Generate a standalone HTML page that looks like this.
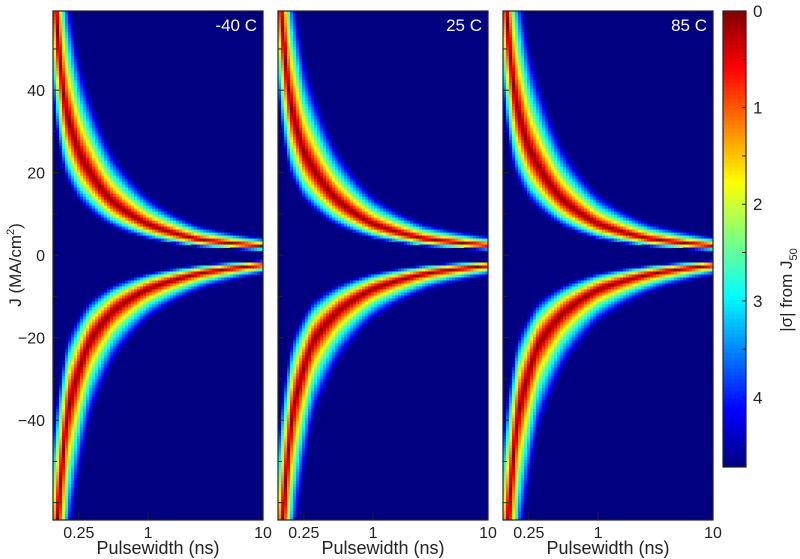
<!DOCTYPE html>
<html><head><meta charset="utf-8"><style>
body{margin:0;background:#fff;}
svg{display:block;font-family:"Liberation Sans",Arial,sans-serif;}
</style></head><body>
<svg id="chart" width="800" height="559" viewBox="0 0 800 559" xmlns="http://www.w3.org/2000/svg">
<g id="cells"></g>
<g id="axes"></g>
<text transform="translate(21,265) rotate(-90)" text-anchor="middle" font-size="17" fill="#222">J (MA/cm<tspan font-size="11" dy="-7">2</tspan><tspan dy="7">)</tspan></text>
<text transform="translate(792,290) rotate(-90)" text-anchor="middle" font-size="17" fill="#222">|σ| from J<tspan font-size="11" dy="5">50</tspan></text>
</svg>
<script>
// ---- data ----
const panelTitles = ["-40 C", "25 C", "85 C"];
const xTickValues = [0.25, 1, 10];
const xTickLabels = ["0.25", "1", "10"];
const yTickValues = [40, 20, 0, -20, -40];
const yTickLabels = ["40", "20", "0", "\u221220", "\u221240"];
const cbTickValues = [0, 1, 2, 3, 4];
const cbTickLabels = ["0", "1", "2", "3", "4"];
// J50 curves (pulsewidth ns -> |J| MA/cm2), per panel
const posPulse1 = [0.15, 0.165, 0.19, 0.25, 0.47, 1, 2.8, 10];
const posJ1     = [70, 52, 36, 25, 13.5, 7.5, 3.8, 2.2];
const negPulse1 = [0.15, 0.17, 0.2, 0.31, 0.5, 1, 3, 10];
const negJ1     = [80, 58, 38, 21, 13.5, 8.2, 4.3, 2.4];
const posPulse2 = [0.15, 0.165, 0.19, 0.25, 0.47, 1, 2.8, 10];
const posJ2     = [70, 53, 37, 25, 13.8, 7.6, 4, 2.4];
const negPulse2 = [0.15, 0.17, 0.2, 0.3, 0.5, 1, 3, 10];
const negJ2     = [80, 58, 38, 21, 13.5, 8.2, 4.4, 2.6];
const posPulse3 = [0.15, 0.165, 0.19, 0.25, 0.47, 1, 2.8, 10];
const posJ3     = [72, 54, 38, 26, 14, 7.6, 4, 2.3];
const negPulse3 = [0.15, 0.17, 0.2, 0.3, 0.5, 1, 3, 10];
const negJ3     = [82, 60, 39, 22, 14, 8.4, 4.5, 2.5];
const logWidth = [0.14, 0.14, 0.145]; // sigma width in ln(J)

// ---- layout ----
const NS = "http://www.w3.org/2000/svg";
const panelX = [53, 278, 503], PW = 210, PT = 11, PB = 520;
const tMin = 0.149, tMax = 10, jMax = 59.2, jMin = -64.2;
const cbX = 723, cbW = 23, cbTop = 11, cbBot = 467, vMax = 4.72;
function xs(px, t){ return px + (Math.log10(t)-Math.log10(tMin))/(Math.log10(tMax)-Math.log10(tMin))*PW; }
function ys(j){ return PT + (jMax-j)/(jMax-jMin)*(PB-PT); }
function cbY(v){ return cbTop + v/vMax*(cbBot-cbTop); }
function cl(x){return Math.max(0,Math.min(1,x));}
function jet(v){ const f = 1 - Math.min(v,vMax)/vMax;
  const r=cl(1.5-Math.abs(4*f-3)), g=cl(1.5-Math.abs(4*f-2)), b=cl(1.5-Math.abs(4*f-1));
  return "rgb("+Math.round(r*255)+","+Math.round(g*255)+","+Math.round(b*255)+")"; }
function interp(ts, js, t){
  const lt=Math.log(t);
  if (t<=ts[0]) return js[0];
  for(let i=1;i<ts.length;i++){ if(t<=ts[i]){ const a=Math.log(ts[i-1]),b=Math.log(ts[i]);
    const u=(lt-a)/(b-a); return Math.exp(Math.log(js[i-1])*(1-u)+Math.log(js[i])*u);} }
  return js[js.length-1];
}
function mk(tag, attrs, parent){ const e=document.createElementNS(NS,tag); for(const k in attrs) e.setAttribute(k,attrs[k]); parent.appendChild(e); return e; }

const cells = document.getElementById("cells");
const axes = document.getElementById("axes");
const curves = [[posPulse1,posJ1,negPulse1,negJ1],[posPulse2,posJ2,negPulse2,negJ2],[posPulse3,posJ3,negPulse3,negJ3]];
const NC = 70, NR = 170;
for (let p=0;p<3;p++){
  const px = panelX[p];
  const bg = mk("rect",{x:px,y:PT,width:PW,height:PB-PT,fill:jet(vMax)},cells);
  
  
  const cw = PW/NC, rh = (PB-PT)/NR;
  const [pt,pj,nt,nj] = curves[p];
  for (let c=0;c<NC;c++){
    const lt = Math.log10(tMin) + (c+0.5)/NC*(Math.log10(tMax)-Math.log10(tMin));
    const t = Math.pow(10,lt);
    const jp = interp(pt,pj,t), jn = interp(nt,nj,t);
    for (let r=0;r<NR;r++){
      const j = jMax - (r+0.5)/NR*(jMax-jMin);
      if (Math.abs(j)<0.3) continue;
      const ref = j>0 ? jp : jn;
      const v = Math.abs(Math.log(Math.abs(j)) - Math.log(ref))/logWidth[p];
      if (v>=vMax) continue;
      const e = mk("rect",{x:(px+c*cw).toFixed(2),y:(PT+r*rh).toFixed(2),width:(cw+0.4).toFixed(2),height:(rh+0.4).toFixed(2),fill:jet(v)},cells);
      
      
    }
  }
  const fr = mk("rect",{x:px,y:PT,width:PW,height:PB-PT,fill:"none",stroke:"#222","stroke-width":1.2},axes);
  
  
  const tt = mk("text",{x:px+PW-6,y:PT+20,"text-anchor":"end","font-size":17,fill:"#fff"},axes);
  tt.textContent = panelTitles[p];
  
  
  for (let j=-60;j<=50;j+=10){
    const y = ys(j); if (y<PT||y>PB) continue;
    const major = j%20===0;
    const tk = mk("line",{x1:px,x2:px+(major?6:4),y1:y,y2:y,stroke:"#222","stroke-width":1},axes);
    
    
  }
  if (p===0){
    yTickValues.forEach((v,i)=>{
      const l = mk("text",{x:px-8,y:ys(v)+6,"text-anchor":"end","font-size":16,fill:"#222"},axes);
      l.textContent = yTickLabels[i];
      
      
    });
  }
  xTickValues.forEach((v,i)=>{
    const x = xs(px,v);
    if (v<tMax){
      const tk = mk("line",{x1:x,x2:x,y1:PB,y2:PB-8,stroke:"#222","stroke-width":1},axes);
      
      
    }
    const l = mk("text",{x:x,y:538,"text-anchor":"middle","font-size":16,fill:"#222"},axes);
    l.textContent = xTickLabels[i];
    
    
  });
  const xt = mk("text",{x:px+PW/2,y:554,"text-anchor":"middle","font-size":18,fill:"#222"},axes);
  xt.textContent = "Pulsewidth (ns)";
  
  
}
// colorbar
const NCB = 120;
for (let i=0;i<NCB;i++){
  const v0 = i/NCB*vMax, v1=(i+1)/NCB*vMax;
  const e = mk("rect",{x:cbX,y:cbY(v0).toFixed(2),width:cbW,height:(cbY(v1)-cbY(v0)+0.5).toFixed(2),fill:jet((v0+v1)/2)},axes);
  
  
}
const cbf = mk("rect",{x:cbX,y:cbTop,width:cbW,height:cbBot-cbTop,fill:"none",stroke:"#222","stroke-width":1.2},axes);


for (let v=0.5; v<vMax; v+=0.5){
  const y = cbY(v);
  const tk = mk("line",{x1:cbX+cbW-4,x2:cbX+cbW,y1:y,y2:y,stroke:"#222","stroke-width":1},axes);
  
  
}
cbTickValues.forEach((v,i)=>{
  const l = mk("text",{x:cbX+cbW+7,y:cbY(v)+6,"font-size":17,fill:"#222"},axes);
  l.textContent = cbTickLabels[i];
  
  
});
</script>
</body></html>
